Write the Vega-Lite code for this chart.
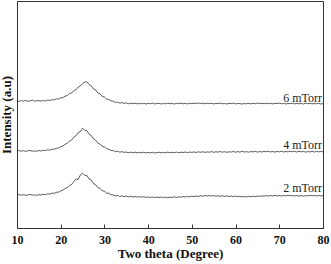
{
"$schema": "https://vega.github.io/schema/vega-lite/v6.json",
"width": 306, "height": 227,
"autosize": {"type": "none"},
"padding": {"left": 17, "top": 1, "right": 8, "bottom": 36},
"background": "white",
"config": {"view": {"stroke": "#333", "strokeWidth": 1}, "font": "Liberation Serif"},
"datasets": {"xrd": [
{"x":10,"p6":127.2,"p4":76.8,"p2":32.8},{"x":10.5,"p6":126.6,"p4":77.4,"p2":33.4},{"x":11,"p6":127.4,"p4":76.9,"p2":32.9},{"x":11.5,"p6":126.9,"p4":77.3,"p2":33.3},
{"x":12,"p6":127.5,"p4":76.6,"p2":32.7},{"x":12.5,"p6":126.7,"p4":77.2,"p2":33.2},{"x":13,"p6":127.1,"p4":77.5,"p2":33.5},{"x":13.5,"p6":127.8,"p4":76.8,"p2":32.8},
{"x":14,"p6":126.8,"p4":77.1,"p2":33.1},{"x":14.5,"p6":127.3,"p4":76.7,"p2":32.6},{"x":15,"p6":127.4,"p4":77.5,"p2":33.4},{"x":15.5,"p6":126.9,"p4":77.0,"p2":33.0},
{"x":16,"p6":127.6,"p4":77.8,"p2":33.8},{"x":16.5,"p6":127.0,"p4":77.4,"p2":33.3},{"x":17,"p6":127.9,"p4":78.2,"p2":34.2},{"x":17.5,"p6":127.5,"p4":77.9,"p2":33.9},
{"x":18,"p6":128.3,"p4":78.9,"p2":34.9},{"x":18.5,"p6":128.1,"p4":78.7,"p2":34.6},{"x":19,"p6":129.2,"p4":79.8,"p2":35.7},{"x":19.5,"p6":128.8,"p4":79.9,"p2":35.8},
{"x":20,"p6":130.2,"p4":81.3,"p2":37.2},{"x":20.5,"p6":130.3,"p4":82.0,"p2":37.8},{"x":21,"p6":131.9,"p4":83.8,"p2":39.6},{"x":21.5,"p6":132.3,"p4":84.6,"p2":40.4},
{"x":22,"p6":134.4,"p4":86.9,"p2":42.5},{"x":22.5,"p6":135.0,"p4":88.0,"p2":43.6},{"x":23,"p6":137.4,"p4":90.9,"p2":46.4},{"x":23.5,"p6":138.3,"p4":92.2,"p2":49.0},
{"x":24,"p6":140.9,"p4":95.3,"p2":48.6},{"x":24.5,"p6":142.0,"p4":96.5,"p2":53.1},{"x":25,"p6":144.6,"p4":99.9,"p2":54.8},{"x":25.5,"p6":145.9,"p4":97.6,"p2":52.6},
{"x":26,"p6":146.3,"p4":97.4,"p2":52.4},{"x":26.5,"p6":143.4,"p4":93.7,"p2":48.9},{"x":27,"p6":142.2,"p4":92.6,"p2":48.1},{"x":27.5,"p6":139.0,"p4":89.1,"p2":44.4},
{"x":28,"p6":138.1,"p4":87.8,"p2":43.3},{"x":28.5,"p6":135.0,"p4":84.9,"p2":40.3},{"x":29,"p6":134.2,"p4":84.0,"p2":39.6},{"x":29.5,"p6":131.5,"p4":81.7,"p2":37.2},
{"x":30,"p6":131.0,"p4":81.1,"p2":36.9},{"x":30.5,"p6":128.9,"p4":79.2,"p2":34.6},{"x":31,"p6":128.6,"p4":78.9,"p2":34.8},{"x":31.5,"p6":127.0,"p4":77.5,"p2":33.1},
{"x":32,"p6":126.9,"p4":77.4,"p2":33.2},{"x":32.5,"p6":125.6,"p4":76.3,"p2":32.0},{"x":33,"p6":125.9,"p4":76.8,"p2":32.5},{"x":33.5,"p6":124.9,"p4":75.9,"p2":31.6},
{"x":34,"p6":125.4,"p4":76.3,"p2":32.1},{"x":34.5,"p6":124.6,"p4":75.6,"p2":31.4},{"x":35,"p6":125.1,"p4":76.0,"p2":31.9},{"x":35.5,"p6":124.2,"p4":75.2,"p2":31.1},
{"x":36,"p6":124.8,"p4":75.8,"p2":31.7},{"x":36.5,"p6":124.3,"p4":75.3,"p2":31.0},{"x":37,"p6":124.9,"p4":75.9,"p2":31.5},{"x":37.5,"p6":124.1,"p4":75.1,"p2":30.9},
{"x":38,"p6":124.6,"p4":75.6,"p2":31.4},{"x":38.5,"p6":124.2,"p4":75.3,"p2":30.8},{"x":39,"p6":124.8,"p4":75.8,"p2":31.3},{"x":39.5,"p6":124.0,"p4":75.0,"p2":30.6},
{"x":40,"p6":124.5,"p4":75.5,"p2":31.1},{"x":40.5,"p6":124.3,"p4":75.2,"p2":30.5},{"x":41,"p6":124.9,"p4":75.7,"p2":31.0},{"x":41.5,"p6":124.1,"p4":75.0,"p2":30.4},
{"x":42,"p6":124.4,"p4":75.4,"p2":30.9},{"x":42.5,"p6":124.7,"p4":75.8,"p2":30.5},{"x":43,"p6":124.0,"p4":75.1,"p2":31.0},{"x":43.5,"p6":124.6,"p4":75.6,"p2":30.4},
{"x":44,"p6":124.2,"p4":75.3,"p2":30.8},{"x":44.5,"p6":124.8,"p4":75.9,"p2":30.3},{"x":45,"p6":124.3,"p4":75.2,"p2":30.9},{"x":45.5,"p6":124.5,"p4":75.7,"p2":30.5},
{"x":46,"p6":124.0,"p4":75.4,"p2":31.1},{"x":46.5,"p6":124.7,"p4":75.9,"p2":30.6},{"x":47,"p6":124.3,"p4":75.3,"p2":31.2},{"x":47.5,"p6":124.9,"p4":75.8,"p2":30.8},
{"x":48,"p6":124.2,"p4":75.5,"p2":31.4},{"x":48.5,"p6":124.6,"p4":76.0,"p2":31.0},{"x":49,"p6":124.1,"p4":75.4,"p2":31.6},{"x":49.5,"p6":124.8,"p4":75.9,"p2":31.2},
{"x":50,"p6":124.4,"p4":75.6,"p2":31.8},{"x":50.5,"p6":124.9,"p4":76.1,"p2":31.4},{"x":51,"p6":124.3,"p4":75.5,"p2":32.0},{"x":51.5,"p6":125.0,"p4":76.2,"p2":31.6},
{"x":52,"p6":124.5,"p4":75.7,"p2":32.2},{"x":52.5,"p6":124.8,"p4":76.3,"p2":31.8},{"x":53,"p6":124.2,"p4":75.6,"p2":32.4},{"x":53.5,"p6":124.9,"p4":76.1,"p2":32.0},
{"x":54,"p6":124.4,"p4":75.8,"p2":32.5},{"x":54.5,"p6":124.7,"p4":76.4,"p2":31.9},{"x":55,"p6":124.1,"p4":75.7,"p2":32.4},{"x":55.5,"p6":124.6,"p4":76.2,"p2":31.8},
{"x":56,"p6":124.3,"p4":75.9,"p2":32.3},{"x":56.5,"p6":124.9,"p4":76.5,"p2":31.7},{"x":57,"p6":124.2,"p4":75.8,"p2":32.2},{"x":57.5,"p6":124.5,"p4":76.3,"p2":31.6},
{"x":58,"p6":124.0,"p4":75.7,"p2":32.1},{"x":58.5,"p6":124.7,"p4":76.2,"p2":31.5},{"x":59,"p6":124.4,"p4":75.9,"p2":32.0},{"x":59.5,"p6":124.8,"p4":76.5,"p2":31.4},
{"x":60,"p6":124.1,"p4":75.8,"p2":31.9},{"x":60.5,"p6":124.6,"p4":76.4,"p2":31.3},{"x":61,"p6":124.3,"p4":75.9,"p2":31.7},{"x":61.5,"p6":124.0,"p4":76.6,"p2":31.1},
{"x":62,"p6":124.5,"p4":76.0,"p2":31.5},{"x":62.5,"p6":124.2,"p4":76.3,"p2":31.0},{"x":63,"p6":124.7,"p4":75.8,"p2":31.6},{"x":63.5,"p6":124.1,"p4":76.4,"p2":31.2},
{"x":64,"p6":124.6,"p4":76.1,"p2":31.8},{"x":64.5,"p6":124.3,"p4":76.7,"p2":31.4},{"x":65,"p6":124.9,"p4":75.9,"p2":32.0},{"x":65.5,"p6":124.4,"p4":76.4,"p2":31.6},
{"x":66,"p6":124.7,"p4":76.0,"p2":32.2},{"x":66.5,"p6":124.2,"p4":76.6,"p2":31.8},{"x":67,"p6":124.8,"p4":76.2,"p2":32.4},{"x":67.5,"p6":124.3,"p4":76.8,"p2":31.9},
{"x":68,"p6":124.6,"p4":76.1,"p2":32.5},{"x":68.5,"p6":124.1,"p4":76.5,"p2":32.0},{"x":69,"p6":124.7,"p4":75.9,"p2":32.6},{"x":69.5,"p6":124.4,"p4":76.6,"p2":32.1},
{"x":70,"p6":124.9,"p4":76.2,"p2":32.5},{"x":70.5,"p6":124.2,"p4":76.7,"p2":32.0},{"x":71,"p6":124.6,"p4":76.0,"p2":32.6},{"x":71.5,"p6":124.0,"p4":76.5,"p2":32.1},
{"x":72,"p6":124.5,"p4":76.1,"p2":32.7},{"x":72.5,"p6":124.3,"p4":76.8,"p2":32.2},{"x":73,"p6":124.8,"p4":76.3,"p2":32.6},{"x":73.5,"p6":124.1,"p4":76.6,"p2":32.0},
{"x":74,"p6":124.6,"p4":76.0,"p2":32.5},{"x":74.5,"p6":124.2,"p4":76.7,"p2":31.9},{"x":75,"p6":124.5,"p4":76.2,"p2":32.4},{"x":75.5,"p6":124.0,"p4":76.5,"p2":31.8},
{"x":76,"p6":124.7,"p4":75.9,"p2":32.5},{"x":76.5,"p6":124.3,"p4":76.4,"p2":32.1},{"x":77,"p6":124.6,"p4":76.1,"p2":32.7},{"x":77.5,"p6":124.1,"p4":76.6,"p2":32.2},
{"x":78,"p6":124.5,"p4":76.0,"p2":32.6},{"x":78.5,"p6":124.2,"p4":76.5,"p2":32.0},{"x":79,"p6":124.7,"p4":76.2,"p2":32.5},{"x":79.5,"p6":124.0,"p4":76.6,"p2":32.1},
{"x":80,"p6":124.4,"p4":76.1,"p2":32.4}
]},
"layer": [
{"data": {"name": "xrd"},
 "transform": [{"fold": ["p6", "p4", "p2"], "as": ["s", "y"]}],
 "mark": {"type": "line", "stroke": "#333", "strokeWidth": 0.8},
 "encoding": {
  "x": {"field": "x", "type": "quantitative",
   "scale": {"domain": [10, 80], "nice": false},
   "axis": {"title": "Two theta (Degree)", "values": [10,15,20,25,30,35,40,45,50,55,60,65,70,75,80],
    "labelExpr": "datum.value % 10 === 0 ? datum.label : ''",
    "tickSize": {"condition": {"test": "datum.value % 10 === 0", "value": -4}, "value": -2},
    "tickColor": "#333", "domainColor": "#333", "grid": false,
    "labelFont": "Liberation Serif", "labelFontSize": 12, "labelFontWeight": "bold", "labelColor": "#111",
    "labelPadding": 10, "labelFlush": false, "labelOverlap": false,
    "titleFont": "Liberation Serif", "titleFontSize": 13, "titleFontWeight": "bold", "titleColor": "#111", "titlePadding": 2}},
  "y": {"field": "y", "type": "quantitative",
   "scale": {"domain": [0, 227], "nice": false, "zero": false},
   "axis": {"title": "Intensity (a.u)", "ticks": false, "labels": false, "grid": false, "domainColor": "#333",
    "titleFont": "Liberation Serif", "titleFontSize": 13, "titleFontWeight": "bold", "titleColor": "#111", "titlePadding": 4}},
  "detail": {"field": "s"}
 }},
{"data": {"values": [{"x": 80, "y": 126.5, "t": "6 mTorr"}, {"x": 80, "y": 79.5, "t": "4 mTorr"}, {"x": 80, "y": 36.5, "t": "2 mTorr"}]},
 "mark": {"type": "text", "align": "right", "baseline": "alphabetic", "dx": -1, "font": "Liberation Serif", "fontSize": 12, "color": "#222"},
 "encoding": {"x": {"field": "x", "type": "quantitative"}, "y": {"field": "y", "type": "quantitative"}, "text": {"field": "t"}}}
]
}
